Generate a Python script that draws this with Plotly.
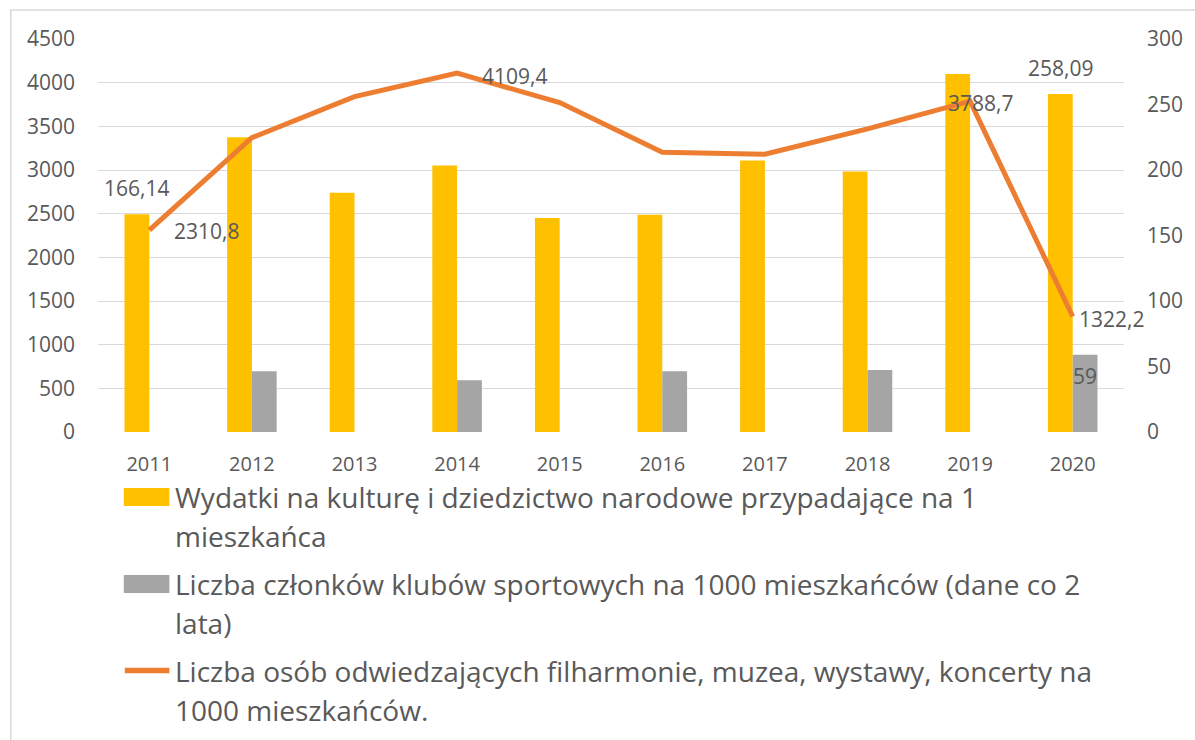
import plotly.graph_objects as go

# ---- data ----
years = ["2011", "2012", "2013", "2014", "2015", "2016", "2017", "2018", "2019", "2020"]
wydatki = [166.14, 225.0, 182.6, 203.4, 163.3, 165.8, 207.2, 198.8, 273.3, 258.09]
kluby = [None, 46.4, None, 39.5, None, 46.4, None, 47.4, None, 59]
osoby = [2310.8, 3370, 3840, 4109.4, 3772, 3204, 3181, 3470, 3788.7, 1322.2]

name_wydatki = "Wydatki na kulturę i dziedzictwo narodowe przypadające na 1 mieszkańca"
name_kluby = "Liczba członków klubów sportowych na 1000 mieszkańców (dane co 2 lata)"
name_osoby = "Liczba osób odwiedzających filharmonie, muzea, wystawy, koncerty na 1000 mieszkańców."

legend_lines_wydatki = ["Wydatki na kulturę i dziedzictwo narodowe przypadające na 1", "mieszkańca"]
legend_lines_kluby = ["Liczba członków klubów sportowych na 1000 mieszkańców (dane co 2", "lata)"]
legend_lines_osoby = ["Liczba osób odwiedzających filharmonie, muzea, wystawy, koncerty na", "1000 mieszkańców."]

left_ticks = list(range(0, 4501, 500))
right_ticks = list(range(0, 301, 50))

# indices of points that carry data labels
lab_wydatki = [0, 9]
lab_kluby = [9]
lab_osoby = [0, 3, 8, 9]

YELLOW = "#FFC000"
GRAY = "#A5A5A5"
ORANGE = "#ED7D31"
TXT = "#595959"
GRID = "#D9D9D9"
FONT = "Open Sans"

W, H = 1195, 740
ML, MR, MT, MB = 98, 62, 39, 308
PW = W - ML - MR
PH = H - MT - MB


def px(x):
    return (x - ML) / PW


def py(y):
    return (H - MB - y) / PH


def fmt(v):
    return ("%g" % v).replace(".", ",")


fig = go.Figure()
fig.add_trace(go.Bar(x=years, y=wydatki, name=name_wydatki, marker=dict(color=YELLOW, line=dict(width=0)),
                     yaxis="y", showlegend=False))
fig.add_trace(go.Bar(x=years, y=kluby, name=name_kluby, marker=dict(color=GRAY, line=dict(width=0)),
                     yaxis="y", showlegend=False))
fig.add_trace(go.Scatter(x=years, y=osoby, name=name_osoby, mode="lines",
                         line=dict(color=ORANGE, width=5), yaxis="y2", showlegend=False))

annotations = []
lab_font = dict(family=FONT, size=21, color=TXT)
for i in lab_wydatki:
    annotations.append(dict(x=i, y=wydatki[i], xref="x", yref="y", text=fmt(wydatki[i]),
                            showarrow=False, xshift=-12.5, yshift=26, font=lab_font))
for i in lab_kluby:
    annotations.append(dict(x=i, y=kluby[i], xref="x", yref="y", text=fmt(kluby[i]),
                            showarrow=False, xshift=12.5, yshift=-21, font=lab_font))
osoby_shift = {0: ("left", 23, -1), 3: ("left", 23, -3), 8: ("center", 10, -2), 9: ("left", 4, -2)}
for i in lab_osoby:
    anc, xs, ys = osoby_shift[i]
    annotations.append(dict(x=i, y=osoby[i], xref="x", yref="y2", text=fmt(osoby[i]),
                            showarrow=False, xanchor=anc, xshift=xs, yshift=ys, font=lab_font))

# custom legend
leg_font = dict(family=FONT, size=28, color=TXT)
shapes = []
shapes.append(dict(type="rect", xref="paper", yref="paper", x0=px(10), x1=px(1210), y0=py(10), y1=py(760),
                   line=dict(color=GRID, width=1.5), fillcolor="rgba(0,0,0,0)", layer="below"))
shapes.append(dict(type="rect", xref="paper", yref="paper", x0=px(124), x1=px(170), y0=py(506), y1=py(488),
                   line=dict(width=0), fillcolor=YELLOW))
shapes.append(dict(type="rect", xref="paper", yref="paper", x0=px(124), x1=px(170), y0=py(593), y1=py(575),
                   line=dict(width=0), fillcolor=GRAY))
shapes.append(dict(type="line", xref="paper", yref="paper", x0=px(125), x1=px(170), y0=py(670.5), y1=py(670.5),
                   line=dict(color=ORANGE, width=5.5)))
for lines, y0 in ((legend_lines_wydatki, 497), (legend_lines_kluby, 584), (legend_lines_osoby, 671)):
    for k, t in enumerate(lines):
        annotations.append(dict(x=px(174), y=py(y0 + 38.5 * k), xref="paper", yref="paper", text=t,
                                showarrow=False, xanchor="left", yanchor="middle", font=leg_font))

fig.update_layout(
    width=W, height=H,
    margin=dict(l=ML, r=MR, t=MT, b=MB, pad=0),
    paper_bgcolor="white", plot_bgcolor="white",
    barmode="group", bargap=0.517, bargroupgap=0,
    hovermode=False,
    font=dict(family=FONT, color=TXT),
    xaxis=dict(type="category", range=[-0.5, len(years) - 0.5], autorange=False,
               showgrid=False, showline=False, zeroline=False, ticks="",
               tickfont=dict(family=FONT, size=20, color=TXT), ticklabelstandoff=18),
    yaxis=dict(side="right", range=[0, 300], tickvals=right_ticks, showgrid=False, zeroline=False,
               showline=False, ticks="", tickfont=dict(family=FONT, size=21, color=TXT), ticklabelstandoff=22),
    yaxis2=dict(side="left", overlaying="y", range=[0, 4500], tickvals=left_ticks, showgrid=True,
                gridcolor=GRID, gridwidth=1, zeroline=False, showline=False, ticks="",
                tickfont=dict(family=FONT, size=21, color=TXT), ticklabelstandoff=22),
    annotations=annotations,
    shapes=shapes,
)

fig.write_html("out.html", config={"displayModeBar": False, "staticPlot": True},
               post_script="document.body.style.margin='0';document.body.style.overflow='hidden';")
